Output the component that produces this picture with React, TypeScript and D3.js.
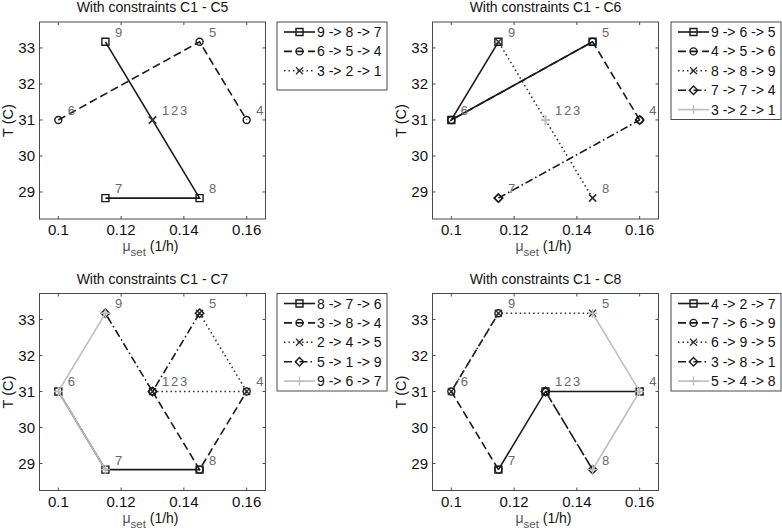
import React, { useEffect, useRef } from "react";
import * as d3 from "d3";

// experiment design points (1..9)
const experimentLabels = ["1", "2", "3", "4", "5", "6", "7", "8", "9"];
const muSet = [0.13, 0.13, 0.13, 0.16, 0.145, 0.1, 0.115, 0.145, 0.115];
const tempC = [31, 31, 31, 31, 33.17, 31, 28.83, 28.83, 33.17];

const xTicks = [0.1, 0.12, 0.14, 0.16];
const yTicks = [29, 30, 31, 32, 33];

const titles = [
  "With constraints C1 - C5",
  "With constraints C1 - C6",
  "With constraints C1 - C7",
  "With constraints C1 - C8",
];

// experiment order per series, "a -> b -> c"
const seqC5 = [[9, 8, 7], [6, 5, 4], [3, 2, 1]];
const seqC6 = [[9, 6, 5], [4, 5, 6], [8, 8, 9], [7, 7, 4], [3, 2, 1]];
const seqC7 = [[8, 7, 6], [3, 8, 4], [2, 4, 5], [5, 1, 9], [9, 6, 7]];
const seqC8 = [[4, 2, 7], [7, 6, 9], [6, 9, 5], [3, 8, 1], [5, 4, 8]];
const panelSequences = [seqC5, seqC6, seqC7, seqC8];

const seriesStyles = [
  { dash: null, marker: "square", color: "#1a1a1a" },
  { dash: "8,4", marker: "circle", color: "#1a1a1a" },
  { dash: "1.5,3", marker: "x", color: "#333333" },
  { dash: "8,3,1.5,3", marker: "diamond", color: "#1a1a1a" },
  { dash: null, marker: "plus", color: "#bdbdbd" },
];

const W = 782,
  H = 532;
const boxW = 226,
  boxH = 197;
const panelPos = [
  [39.5, 22],
  [432.5, 22],
  [39.5, 293.5],
  [432.5, 293.5],
];
const legendLeft = [277, 671];
const font = "'Liberation Sans', Arial, sans-serif";

const x = d3.scaleLinear().domain([0.094, 0.166]).range([0, boxW]);
const y = d3.scaleLinear().domain([28.25, 33.72]).range([boxH, 0]);

function markerPath(type: string, s: number) {
  switch (type) {
    case "square":
      return `M${-s},${-s}h${2 * s}v${2 * s}h${-2 * s}Z`;
    case "circle":
      return `M${-s},0a${s},${s} 0 1,0 ${2 * s},0a${s},${s} 0 1,0 ${-2 * s},0`;
    case "x":
      return `M${-s},${-s}L${s},${s}M${-s},${s}L${s},${-s}`;
    case "diamond":
      return `M0,${-s * 1.2}L${s * 1.2},0L0,${s * 1.2}L${-s * 1.2},0Z`;
    default:
      return `M${-s - 1},0H${s + 1}M0,${-s - 1}V${s + 1}`;
  }
}

export default function App() {
  const ref = useRef<SVGSVGElement>(null);

  useEffect(() => {
    const svg = d3.select(ref.current);
    svg.selectAll("*").remove();
    svg.append("rect").attr("width", W).attr("height", H).attr("fill", "#fff");

    panelSequences.forEach((seqs, p) => {
      const [px, py] = panelPos[p];
      const g = svg.append("g").attr("transform", `translate(${px},${py})`);

      // axes box
      g.append("rect")
        .attr("width", boxW)
        .attr("height", boxH)
        .attr("fill", "#fff")
        .attr("stroke", "#4a4a4a")
        .attr("stroke-width", 1);

      // ticks on all four sides, pointing in
      xTicks.forEach((t) => {
        g.append("path")
          .attr("d", `M${x(t)},${boxH}v-3M${x(t)},0v3`)
          .attr("stroke", "#4a4a4a");
        g.append("text")
          .attr("x", x(t))
          .attr("y", boxH + 16)
          .attr("text-anchor", "middle")
          .style("font", `15px ${font}`)
          .style("fill", "#111")
          .text(String(t));
      });
      yTicks.forEach((t) => {
        g.append("path")
          .attr("d", `M0,${y(t)}h3M${boxW},${y(t)}h-3`)
          .attr("stroke", "#4a4a4a");
        g.append("text")
          .attr("x", -4.5)
          .attr("y", y(t) + 5.3)
          .attr("text-anchor", "end")
          .style("font", `15px ${font}`)
          .style("fill", "#111")
          .text(String(t));
      });

      // title and axis labels
      g.append("text")
        .attr("x", boxW / 2)
        .attr("y", -10)
        .attr("text-anchor", "middle")
        .style("font", `14px ${font}`)
        .style("fill", "#111")
        .text(titles[p]);

      g.append("text")
        .attr("transform", `translate(-26.5,${boxH / 2}) rotate(-90)`)
        .attr("text-anchor", "middle")
        .style("font", `14.5px ${font}`)
        .style("fill", "#111")
        .text("T (C)");

      const xl = g
        .append("text")
        .attr("x", boxW / 2 - 2)
        .attr("y", boxH + 32)
        .attr("text-anchor", "middle")
        .style("font", `14px ${font}`)
        .style("fill", "#111");
      xl.append("tspan").style("fill", "#555").text("μ");
      xl.append("tspan").attr("dy", 5).style("font-size", "11.5px").style("fill", "#555").text("set");
      xl.append("tspan").attr("dy", -5).text(" (1/h)");

      // series
      const line = d3
        .line<number>()
        .x((d) => x(muSet[d - 1]))
        .y((d) => y(tempC[d - 1]));

      seqs.forEach((seq, s) => {
        const st = seriesStyles[s];
        g.append("path")
          .attr("d", line(seq))
          .attr("fill", "none")
          .attr("stroke", st.color)
          .attr("stroke-width", 1.6)
          .attr("stroke-dasharray", st.dash);
        seq.forEach((d) => {
          g.append("path")
            .attr("transform", `translate(${x(muSet[d - 1])},${y(tempC[d - 1])})`)
            .attr("d", markerPath(st.marker, 3.5))
            .attr("fill", "none")
            .attr("stroke", st.color)
            .attr("stroke-width", 1.4);
        });
      });

      // experiment number labels
      experimentLabels.forEach((lab, i) => {
        const k = muSet
          .slice(0, i)
          .filter((m, j) => m === muSet[i] && tempC[j] === tempC[i]).length;
        g.append("text")
          .attr("x", x(muSet[i]) + 9.5 + k * 9)
          .attr("y", y(tempC[i]) - 5)
          .style("font", `13px ${font}`)
          .style("fill", "#6a6a6a")
          .text(lab);
      });

      // legend
      const lx = legendLeft[p % 2];
      const lg = svg.append("g").attr("transform", `translate(${lx},${py})`);
      const legH = seqs.length <= 3 ? 68 : 97.5;
      lg.append("rect")
        .attr("width", 110)
        .attr("height", legH)
        .attr("fill", "#fff")
        .attr("stroke", "#4a4a4a");
      seqs.forEach((seq, s) => {
        const st = seriesStyles[s];
        const cy = 10 + s * 19.4;
        lg.append("path")
          .attr("d", `M7,${cy}H38`)
          .attr("stroke", st.color)
          .attr("stroke-width", 1.6)
          .attr("stroke-dasharray", st.dash);
        lg.append("path")
          .attr("transform", `translate(22.5,${cy})`)
          .attr("d", markerPath(st.marker, 3.5))
          .attr("fill", "none")
          .attr("stroke", st.color)
          .attr("stroke-width", 1.4);
        lg.append("text")
          .attr("x", 40)
          .attr("y", cy + 5)
          .style("font", `14px ${font}`)
          .style("fill", "#111")
          .text(seq.join(" -> "));
      });
    });
  }, []);

  return (
    <svg
      ref={ref}
      width={W}
      height={H}
      style={{ position: "absolute", left: 0, top: 0 }}
    />
  );
}
